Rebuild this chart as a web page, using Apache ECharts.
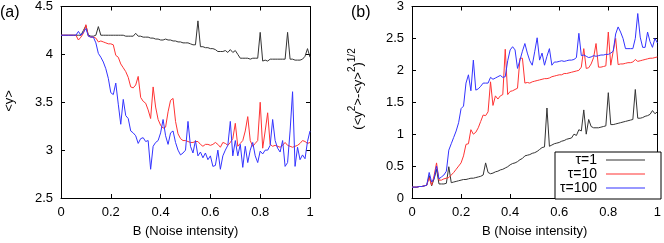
<!DOCTYPE html>
<html><head><meta charset="utf-8">
<script src="https://cdn.jsdelivr.net/npm/echarts@6/dist/echarts.min.js"></script>
<style>html,body{margin:0;padding:0;background:#fff}#c{width:664px;height:243px}</style>
</head><body><div id="c"></div>
<script>
// noise intensity B, 0..1 step 0.01
const noiseB = Array.from({length:101},(_,i)=>+(i/100).toFixed(2));
const xTicks = [0,0.2,0.4,0.6,0.8,1];
const seriesNames = ['τ=1','τ=10','τ=100'];
// panel (a): <y>
const meanTau1 = [4.2,4.2,4.2,4.2,4.2,4.2,4.2,4.2,4.2,4.25,4.3,4.2,4.19,4.19,4.2,4.29,4.2,4.2,4.2,4.2,
4.2,4.2,4.2,4.2,4.2,4.2,4.19,4.19,4.19,4.19,4.22,4.19,4.19,4.18,4.18,4.18,4.17,4.17,4.16,4.16,
4.15,4.15,4.16,4.15,4.15,4.14,4.14,4.13,4.13,4.12,4.12,4.12,4.11,4.1,4.1,4.35,4.08,4.08,4.07,4.07,
4.06,4.06,4.05,4.03,4.03,4.03,4.04,4.02,4.05,4.02,4.04,4.0,3.96,3.96,3.96,3.96,3.95,3.96,3.96,3.96,
4.23,3.93,3.94,3.93,3.95,3.95,3.95,3.95,3.95,3.95,3.95,4.23,3.95,3.95,3.94,3.94,3.94,3.95,3.98,4.06,3.97];
const meanTau10 = [4.2,4.2,4.2,4.2,4.2,4.2,4.2,4.15,4.18,4.22,4.31,4.19,4.18,4.18,4.17,4.13,4.14,4.13,4.12,4.11,
4.11,4.1,3.99,3.97,3.9,3.86,3.82,3.76,3.66,3.65,3.68,3.77,3.55,3.51,3.49,3.42,3.33,3.66,3.45,3.32,
3.26,3.23,3.24,3.4,3.52,3.54,3.3,3.17,3.12,3.1,3.1,3.09,3.08,3.08,3.09,3.09,3.06,3.04,3.06,3.06,
3.05,3.06,3.08,3.06,3.03,3.08,3.07,3.05,3.08,3.12,3.28,3.04,3.07,3.1,3.2,3.35,3.1,3.04,3.07,3.1,
3.5,3.02,3.2,3.39,3.06,3.04,3.05,3.04,3.03,3.05,3.08,3.05,3.04,3.03,3.04,3.05,3.07,3.1,3.09,3.07,3.08];
const meanTau100 = [4.2,4.2,4.2,4.2,4.2,4.2,4.2,4.24,4.2,4.23,4.27,4.19,4.18,4.18,4.12,4.01,3.97,3.92,3.85,3.75,
3.6,3.58,3.7,3.48,3.27,3.53,3.36,3.33,3.2,3.18,3.15,3.07,3.12,3.13,3.09,3.1,2.8,3.04,3.08,3.1,
3.18,3.32,3.15,3.06,3.18,3.2,3.08,3.0,2.95,2.97,3.0,3.3,3.04,2.97,3.1,2.94,2.98,2.92,2.97,2.9,
2.94,2.83,2.84,3.0,2.8,2.94,3.0,3.05,3.3,2.94,3.1,2.94,3.06,2.82,3.04,2.87,3.0,3.08,2.94,2.87,
2.99,2.96,3.0,3.0,3.05,3.32,3.1,3.02,2.98,3.1,2.83,2.87,3.2,3.61,2.83,3.03,2.9,2.95,2.91,3.09,3.2];
// panel (b): (<y^2>-<y>^2)^(1/2)
const sdTau1 = [0.17,0.17,0.17,0.18,0.18,0.19,0.2,0.35,0.19,0.3,0.45,0.22,0.22,0.22,0.23,0.49,0.24,0.25,0.26,0.27,
0.28,0.29,0.29,0.3,0.31,0.31,0.32,0.33,0.34,0.36,0.55,0.4,0.38,0.39,0.41,0.42,0.44,0.45,0.47,0.49,
0.52,0.54,0.55,0.57,0.6,0.62,0.66,0.67,0.68,0.7,0.71,0.73,0.76,0.79,0.8,1.41,0.81,0.83,0.85,0.86,
0.87,0.89,0.9,0.92,0.93,0.94,1.0,0.98,1.07,1.05,1.38,1.0,1.23,1.12,1.1,1.1,1.1,1.11,1.12,1.13,
1.65,1.15,1.15,1.16,1.17,1.18,1.19,1.2,1.21,1.22,1.23,1.7,1.25,1.25,1.26,1.28,1.29,1.31,1.37,1.32,1.35];
const sdTau10 = [0.17,0.17,0.17,0.18,0.18,0.19,0.2,0.32,0.2,0.35,0.55,0.28,0.28,0.3,0.31,0.32,0.36,0.4,0.45,0.5,
0.55,0.66,0.84,0.85,1.07,1.0,1.03,1.1,1.2,1.3,1.29,1.35,1.82,1.45,1.6,1.55,1.6,1.62,2.33,1.62,
1.67,1.68,1.7,1.72,2.19,2.19,1.8,1.81,1.8,1.82,1.83,1.84,1.85,1.86,1.87,1.87,1.88,1.9,1.91,1.92,
1.93,1.93,1.95,1.95,1.96,1.97,1.98,1.99,2.0,2.05,2.34,2.03,2.04,2.1,2.2,2.42,2.05,2.05,2.06,2.07,
2.6,2.08,2.3,2.5,2.09,2.1,2.1,2.11,2.12,2.12,2.13,2.17,2.14,2.15,2.16,2.17,2.18,2.19,2.19,2.2,2.21];
const sdTau100 = [0.17,0.17,0.17,0.18,0.18,0.19,0.2,0.4,0.25,0.3,0.5,0.3,0.33,0.36,0.42,0.75,0.85,0.95,1.05,1.18,
1.4,1.44,1.8,1.93,1.68,2.16,1.69,1.71,1.75,1.8,1.8,1.8,1.89,1.86,1.88,1.9,1.92,1.89,1.9,2.15,
2.32,2.37,2.32,2.03,2.16,2.3,2.42,2.27,2.15,2.08,2.29,2.51,2.16,2.27,2.08,2.22,2.34,2.08,2.13,2.13,
2.14,2.15,2.14,2.15,2.16,2.16,2.17,2.2,2.58,2.23,2.24,2.22,2.2,2.21,2.23,2.22,2.23,2.24,2.24,2.25,
2.25,2.27,2.3,2.57,2.68,2.6,2.5,2.34,2.34,2.34,2.34,2.5,2.89,2.52,2.36,2.36,2.6,2.45,2.36,2.5,2.43];
const colors = ['#333333','#ff3333','#3333ff'];

const FONT = 'Liberation Sans, Arial, sans-serif';
const pairs = arr => arr.map((v,i)=>[noiseB[i],v]);
function xAx(gi, top){
  return {type:'value', gridIndex:gi, position: top?'top':'bottom', min:0, max:1, interval:0.2,
    axisLine:{show:true,onZero:false,lineStyle:{color:'#000',width:1}},
    axisTick:{show:true,inside:true,length:4,lineStyle:{color:'#000'}},
    axisLabel:{show:!top,color:'#000',fontFamily:FONT,fontSize:13,margin:8,
      formatter:v=>String(+v.toFixed(1))},
    splitLine:{show:false},
    name: (!top)?'B (Noise intensity)':'', nameLocation:'middle', nameGap:27,
    nameTextStyle:{color:'#000',fontFamily:FONT,fontSize:13}};
}
function yAx(gi, right, min, max){
  return {type:'value', gridIndex:gi, position: right?'right':'left', min, max, interval:0.5,
    axisLine:{show:true,onZero:false,lineStyle:{color:'#000',width:1}},
    axisTick:{show:true,inside:true,length:4,lineStyle:{color:'#000'}},
    axisLabel:{show:!right,color:'#000',fontFamily:FONT,fontSize:13,margin:8},
    splitLine:{show:false}};
}
function ser(name, xi, yi, data, ci){
  return {name, type:'line', xAxisIndex:xi, yAxisIndex:yi, data:pairs(data), symbol:'none',
    showSymbol:false, animation:false, lineStyle:{width:1,color:colors[ci]}, itemStyle:{color:colors[ci]}};
}
const chart = echarts.init(document.getElementById('c'), null, {renderer:'canvas'});
chart.setOption({
  animation:false,
  textStyle:{fontFamily:FONT},
  grid:[{left:61,top:6,width:249,height:193},{left:412,top:6,width:249,height:193}],
  xAxis:[xAx(0,false),xAx(0,true),xAx(1,false),xAx(1,true)],
  yAxis:[yAx(0,false,2.5,4.5),yAx(0,true,2.5,4.5),yAx(1,false,0,3),yAx(1,true,0,3)],
  legend:{show:true, data:seriesNames, orient:'vertical', right:3, bottom:44, align:'right',
    backgroundColor:'#fff', borderColor:'#000', borderWidth:1, padding:[1,16,4,1], itemGap:0,
    itemWidth:39, itemHeight:14, icon:'path://M0,5L40,5L40,6L0,6Z',
    textStyle:{color:'#000',fontFamily:FONT,fontSize:14,lineHeight:14,width:41,align:'right',padding:[0,4,0,0]}},
  series:[
    ser(seriesNames[0],0,0,meanTau1,0), ser(seriesNames[1],0,0,meanTau10,1), ser(seriesNames[2],0,0,meanTau100,2),
    ser(seriesNames[0],2,2,sdTau1,0), ser(seriesNames[1],2,2,sdTau10,1), ser(seriesNames[2],2,2,sdTau100,2)
  ],
  graphic:[
    {type:'text', left:0, top:5, style:{text:'(a)', font:'16px '+FONT, fill:'#000'}},
    {type:'text', left:351, top:5, style:{text:'(b)', font:'16px '+FONT, fill:'#000'}},
    {type:'text', x:9, y:101, rotation:Math.PI/2, style:{text:'<y>', font:'13px '+FONT, fill:'#000', align:'center', verticalAlign:'middle'}},
    {type:'text', x:356, y:89, rotation:Math.PI/2, style:{
      text:'{n|(<y}{s|2}{n|>-<y>}{s|2}{n|)}{s|1/2}', font:'13px '+FONT, fill:'#000', align:'center', verticalAlign:'middle',
      rich:{n:{fontSize:13,fontFamily:FONT,verticalAlign:'bottom',fill:'#000'},
            s:{fontSize:10,fontFamily:FONT,verticalAlign:'bottom',padding:[0,0,7,0],fill:'#000'}}}}
  ]
});
</script></body></html>
